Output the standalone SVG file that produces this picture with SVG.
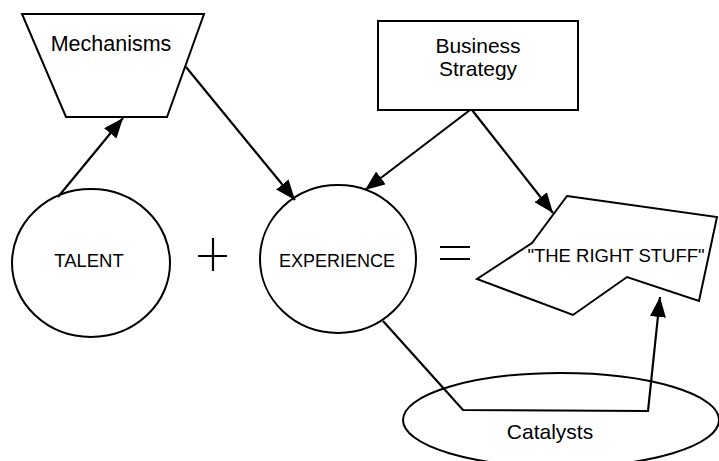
<svg xmlns="http://www.w3.org/2000/svg" width="719" height="461" viewBox="0 0 719 461">
<style>
.s{fill:#fff;stroke:#000;stroke-width:2}
.c{fill:none;stroke:#000;stroke-width:2.2}
.t{font-family:"Liberation Sans",Arial,sans-serif;fill:#000;text-anchor:middle}
</style>
<defs>
<marker id="ah" viewBox="0 0 20 16" markerWidth="20" markerHeight="16" markerUnits="userSpaceOnUse" refX="20" refY="8" orient="auto">
<path d="M0,0 L20,8 L0,16 z" fill="#000"/>
</marker>
</defs>
<g id="mechanisms">
<polygon class="s" points="22,14 204,14 167,117 66,117"/>
<text class="t" x="111" y="51" font-size="21.5">Mechanisms</text>
</g>
<g id="business-strategy">
<rect class="s" x="378" y="21" width="200" height="89"/>
<text class="t" x="478" y="53" font-size="21">Business</text>
<text class="t" x="478" y="76" font-size="21">Strategy</text>
</g>
<g id="talent">
<ellipse class="s" cx="91" cy="263" rx="79" ry="74"/>
<text class="t" x="89" y="267" font-size="18.5">TALENT</text>
</g>
<g id="experience">
<ellipse class="s" cx="338" cy="259" rx="78" ry="74"/>
<text class="t" x="337" y="267" font-size="18">EXPERIENCE</text>
</g>
<g id="plus">
<path class="c" stroke-width="1.5" d="M198,256 H227 M213,238 V271"/>
</g>
<g id="equals">
<path class="c" stroke-width="1.5" d="M440,247 H470 M440,259 H470"/>
</g>
<g id="catalysts">
<ellipse class="s" cx="561" cy="420" rx="158" ry="47"/>
<text class="t" x="550" y="439" font-size="21">Catalysts</text>
</g>
<g id="right-stuff">
<polygon class="s" points="567,196 717,217 699,301 627,277 573,315 477,279 532,243"/>
<text class="t" x="616" y="262" font-size="18.5">"THE RIGHT STUFF"</text>
</g>
<g id="connectors">
<line class="c" x1="58" y1="197" x2="123" y2="118" marker-end="url(#ah)"/>
<line class="c" x1="186" y1="67" x2="295" y2="200" marker-end="url(#ah)"/>
<line class="c" x1="470" y1="110" x2="365" y2="190" marker-end="url(#ah)"/>
<line class="c" x1="472" y1="110" x2="553" y2="213" marker-end="url(#ah)"/>
<polyline class="c" points="383,321 463,410 648,411 660,297" marker-end="url(#ah)"/>
</g>
</svg>
